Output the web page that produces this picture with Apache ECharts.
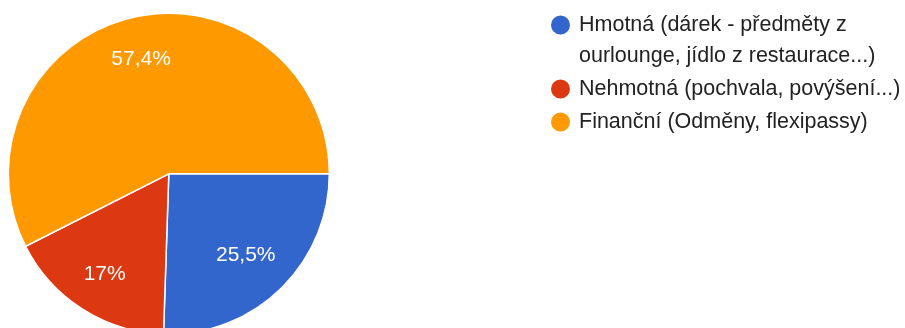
<!DOCTYPE html>
<html>
<head>
<meta charset="utf-8">
<script src="https://cdn.jsdelivr.net/npm/echarts@6/dist/echarts.min.js"></script>
<style>
html,body{margin:0;padding:0;background:#fff;}
#c{width:905px;height:328px;}
</style>
</head>
<body>
<div id="c"></div>
<script>
const categories = [
  'Hmotná (dárek - předměty z ourlounge, jídlo z restaurace...)',
  'Nehmotná (pochvala, povýšení...)',
  'Finanční (Odměny, flexipassy)'
];
const legendLabels = [
  '\nHmotná (dárek - předměty z\nourlounge, jídlo z restaurace...)',
  'Nehmotná (pochvala, povýšení...)',
  'Finanční (Odměny, flexipassy)'
];
const percents = [25.5, 17, 57.4];
const colors = ['#3366CC', '#DC3912', '#FF9900'];

const FONT = "'Liberation Sans', Arial, sans-serif";
const pieData = categories.map((n, i) => ({ name: n, value: percents[i], itemStyle: { color: colors[i] } }));
const labelData = categories.map((n, i) => ({ name: n, value: percents[i] }));

const chart = echarts.init(document.getElementById('c'), null, { renderer: 'canvas' });
chart.setOption({
  backgroundColor: '#fff',
  animation: false,
  legend: {
    orient: 'vertical',
    left: 549,
    top: -21.5,
    padding: 0,
    itemGap: 2,
    itemWidth: 27,
    itemHeight: 21,
    icon: 'circle',
    selectedMode: false,
    data: categories,
    formatter: function (name) { return legendLabels[categories.indexOf(name)]; },
    textStyle: { fontFamily: FONT, fontSize: 21.5, lineHeight: 31, color: '#222' }
  },
  series: [
    {
      type: 'pie',
      center: [168.8, 173.8],
      radius: [0, 160.5],
      startAngle: 0,
      clockwise: true,
      silent: true,
      data: pieData,
      label: { show: false },
      labelLine: { show: false },
      itemStyle: { borderColor: '#fff', borderWidth: 1.5 }
    },
    {
      type: 'pie',
      center: [168.8, 173.8],
      radius: [72, 160.5],
      startAngle: 0,
      clockwise: true,
      silent: true,
      data: labelData,
      itemStyle: { color: 'rgba(0,0,0,0)' },
      label: {
        show: true,
        position: 'inside',
        fontFamily: FONT,
        fontSize: 21,
        color: '#fff',
        formatter: function (p) { return String(p.value).replace('.', ',') + '%'; }
      },
      labelLine: { show: false },
      labelLayout: function (p) {
        return p.dataIndex === 0 ? { dx: -6, dy: -4 } : (p.dataIndex === 2 ? { dy: 1 } : {});
      }
    }
  ]
});
</script>
</body>
</html>
